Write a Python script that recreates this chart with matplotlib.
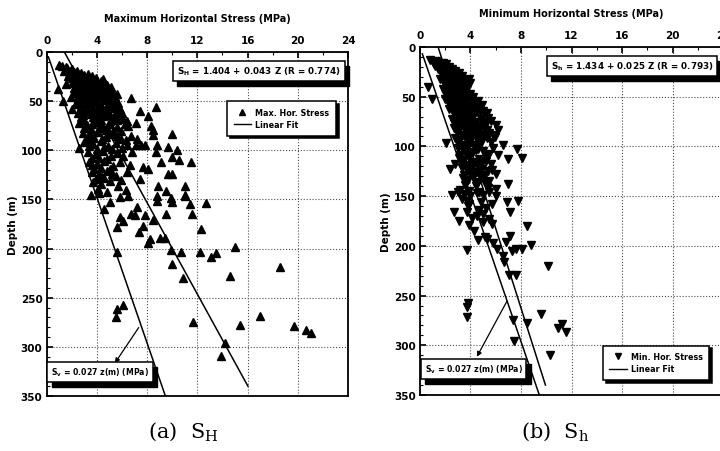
import numpy as np
import matplotlib
matplotlib.use("Agg")
import matplotlib.pyplot as plt
from matplotlib.transforms import offset_copy
from matplotlib.lines import Line2D

# ---- data: (stress MPa, depth m) ----
sh_max_stress = [1.0, 1.2, 1.6, 1.9, 2.2, 1.4,
                 1.8, 2.1, 2.5, 2.8, 3.1, 2.3, 3.4, 2.6, 3.7, 4.0, 4.3,
                 2.0, 2.4, 2.9, 3.2, 3.6, 3.9, 4.2, 4.6, 4.9, 1.5, 2.7, 3.3, 4.5, 5.2,
                 2.2, 2.6, 3.0, 3.4, 3.8, 4.1, 4.4, 4.8, 5.2, 5.6, 1.9, 2.9, 3.6, 4.6, 5.0, 0.9, 1.3,
                 2.3, 2.7, 3.1, 3.5, 3.9, 4.3, 4.7, 5.1, 5.5, 2.0, 3.3, 4.0, 4.9, 5.8, 6.75, 7.4,
                 2.5, 2.9, 3.3, 3.7, 4.1, 4.5, 4.9, 5.3, 5.7, 6.1, 3.0, 4.3, 5.0, 8.05, 8.74,
                 2.6, 3.2, 3.8, 4.4, 5.0, 5.6, 6.4, 6.5, 7.1, 8.3, 3.5, 4.7, 5.9, 8.5,
                 2.9, 3.5, 4.1, 4.7, 5.3, 5.9, 6.7, 8.5, 9.94, 3.2, 4.4, 7.2,
                 3.0, 3.7, 4.3, 4.9, 5.5, 7.15, 7.5, 7.8, 8.75, 9.67, 2.6, 4.0, 6.0,
                 3.3, 3.9, 4.5, 5.1, 6.76, 8.7, 10.4, 10.0, 6.1, 3.6, 4.8, 5.6,
                 3.4, 4.0, 4.6, 5.3, 6.6, 9.1, 10.5, 11.5, 7.7, 8.1, 3.8, 5.0,
                 3.6, 4.2, 4.8, 5.5, 6.36, 9.67, 10.0, 7.4, 3.9, 4.6,
                 3.7, 4.3, 5.0, 5.7, 8.87, 11.0, 11.0, 4.1, 4.8, 6.3, 3.5, 4.2,
                 4.55, 5.03, 5.56, 5.6, 5.83, 6.1, 5.83, 6.5, 6.7, 7.0, 7.2, 7.36,
                 7.63, 7.8, 8.08, 8.2, 8.5, 8.8, 8.8, 9.0, 9.4, 9.5, 9.5, 9.9, 10.0,
                 9.86, 9.96, 10.73, 10.86, 11.0, 11.45, 11.6, 12.3, 12.24, 12.66,
                 11.65, 13.1, 13.46, 14.57, 15.0, 14.2, 13.88, 15.37, 16.96, 18.55,
                 19.7, 20.67, 21.07, 5.56, 5.5, 6.1,
                 1.5, 2.0, 2.4, 2.7, 3.0, 3.3, 3.6, 2.0, 2.9, 3.9, 4.5, 1.7,
                 2.2, 2.6, 3.0, 3.4, 3.7, 4.1, 4.4, 4.8, 5.1, 2.4, 2.8, 3.2, 3.6, 4.0,
                 4.3, 4.7, 5.0, 5.4, 2.5, 3.1, 3.9, 4.9, 5.3,
                 2.5, 2.9, 3.3, 3.7, 4.1, 4.5, 4.9, 5.3, 5.7, 2.8, 3.5, 3.9, 4.7, 5.5,
                 6.0, 2.7, 5.6,
                 3.0, 3.6, 4.2, 4.8, 5.3, 6.2, 3.3, 3.8, 4.9, 5.6, 6.3, 3.4, 4.6, 5.2, 6.4,
                 3.6, 4.3, 5.8, 4.2, 5.2, 4.4, 5.9]
sh_max_depth = [13, 14, 16, 18, 20, 19,
                22, 24, 23, 25, 27, 28, 26, 30, 28, 30, 29,
                32, 34, 33, 35, 32, 36, 34, 31, 37, 33, 38, 39, 39, 40,
                42, 44, 41, 45, 43, 47, 42, 45, 44, 43, 46, 48, 49, 49, 48, 38, 50,
                52, 55, 53, 56, 51, 54, 57, 52, 55, 58, 59, 59, 60, 58, 47, 60,
                62, 64, 61, 66, 63, 65, 62, 67, 64, 68, 69, 69, 70, 65, 56,
                72, 74, 71, 75, 73, 76, 70, 75, 72, 75, 78, 79, 80, 79,
                82, 84, 81, 86, 83, 88, 85, 84, 83, 89, 89, 88,
                92, 94, 91, 96, 93, 95, 95, 95, 95, 97, 98, 99, 98,
                102, 104, 101, 106, 102, 102, 100, 107, 106, 108, 109, 103,
                112, 114, 111, 116, 115, 112, 110, 112, 117, 119, 119, 119,
                122, 124, 121, 126, 122, 124, 124, 129, 129, 128,
                132, 134, 131, 136, 136, 136, 145, 139, 142, 140, 145, 143,
                160, 153, 178, 203, 168, 172, 148, 146, 165, 166, 158, 183,
                177, 166, 194, 190, 171, 147, 152, 189, 189, 141, 165, 149, 153,
                201, 216, 203, 230, 146, 155, 165, 180, 203, 154,
                275, 209, 205, 228, 198, 296, 309, 278, 269, 219,
                279, 283, 286, 261, 270, 257,
                15, 17, 19, 21, 23, 22, 24, 26, 29, 26, 27, 24,
                37, 31, 36, 33, 37, 38, 36, 34, 36, 40, 42, 43, 41, 44,
                46, 41, 42, 46, 47, 46, 47, 46, 49,
                53, 57, 51, 58, 56, 59, 54, 57, 52, 60, 63, 68, 64, 61,
                62, 66, 69,
                77, 73, 77, 77, 80, 73, 86, 87, 82, 85, 90, 96, 97, 99, 95,
                115, 118, 112, 108, 124, 127, 130]

sh_min_stress = [0.8, 1.0, 1.3, 1.5, 1.8, 1.2, 2.0,
                 1.4, 1.7, 2.0, 2.3, 2.6, 1.9, 2.2, 2.5, 2.9,
                 1.6, 2.0, 2.3, 2.6, 2.9, 3.2, 3.5, 3.9, 2.4, 2.8, 3.3, 0.66,
                 1.8, 2.1, 2.5, 2.8, 3.1, 3.4, 3.7, 4.0, 2.3, 2.7, 3.3, 0.93,
                 2.0, 2.4, 2.7, 3.0, 3.4, 3.7, 4.1, 4.4, 2.6, 3.2, 4.76, 3.9,
                 2.3, 2.6, 3.0, 3.3, 3.6, 4.0, 4.3, 4.7, 5.0, 2.8, 3.5, 4.2,
                 2.5, 2.9, 3.2, 3.6, 4.0, 4.4, 4.8, 5.2, 5.6, 3.1, 3.8, 4.6, 6.0,
                 2.7, 3.1, 3.5, 3.9, 4.3, 4.7, 5.1, 5.5, 6.2, 3.3, 4.1, 5.0,
                 2.8, 3.2, 3.6, 4.0, 4.5, 4.9, 5.3, 5.95, 6.56, 2.06, 3.5, 4.3,
                 3.0, 3.4, 3.8, 4.2, 4.6, 5.0, 5.5, 6.2, 7.67, 3.2, 4.0, 5.8,
                 3.1, 3.5, 3.9, 4.3, 4.7, 5.2, 7.0, 8.07, 2.8, 3.7, 4.5, 5.6,
                 2.38, 3.3, 3.7, 4.1, 4.5, 4.9, 5.4, 6.0, 3.5, 4.3, 5.1,
                 3.4, 3.8, 4.2, 4.6, 5.0, 5.5, 7.0, 3.6, 4.4, 5.3, 6.0, 3.2,
                 3.0, 3.5, 4.0, 4.5, 5.0, 5.5, 6.0, 6.88, 7.75, 3.3, 3.9, 4.8, 5.7, 2.5, 3.7, 3.8,
                 2.7, 3.7, 3.9, 4.1, 4.98, 7.1, 4.5, 5.0, 5.5, 3.1, 4.7, 5.2, 5.7,
                 4.3, 5.16, 5.3, 6.8, 7.14, 8.5, 5.8, 4.6,
                 3.7, 6.1, 6.6, 6.66, 7.3, 7.6, 8.07, 8.83, 7.04, 7.6, 10.13,
                 3.8, 3.73, 3.7, 7.4, 8.5, 9.58, 7.46, 10.9, 11.27, 11.53, 10.26,
                 1.1, 1.4, 1.7, 2.1, 2.3, 1.6, 2.5, 2.8, 3.1, 3.3, 1.8, 2.1, 2.7, 3.0,
                 3.6, 3.4, 1.9, 2.2, 2.6, 3.1, 3.7, 4.0,
                 2.0, 2.4, 2.6, 3.0, 3.5, 3.8, 4.2, 4.6, 2.2, 2.9, 3.2, 3.6, 4.1, 4.9,
                 2.5, 2.9, 3.8, 4.5, 5.3, 2.7, 3.4, 4.2, 5.0, 5.4,
                 2.9, 3.7, 4.5, 5.3, 5.8, 3.0, 3.8, 4.7, 5.6, 3.6, 4.4, 5.2, 3.3, 4.1,
                 4.9, 3.9, 4.7, 5.7, 3.6, 4.4, 5.2, 3.9, 4.7, 5.4]
sh_min_depth = [13, 15, 14, 17, 16, 19, 19,
                22, 24, 21, 23, 25, 27, 29, 28, 27,
                32, 34, 31, 33, 35, 32, 36, 32, 38, 39, 38, 40.6,
                42, 44, 41, 46, 43, 45, 42, 47, 48, 49, 49, 52,
                52, 54, 51, 56, 53, 55, 52, 57, 58, 59, 59, 60,
                62, 64, 61, 66, 63, 65, 62, 67, 64, 69, 69, 70,
                72, 74, 71, 76, 73, 75, 72, 77, 74, 79, 79, 79, 78,
                82, 84, 81, 86, 83, 85, 82, 87, 84, 89, 89, 89,
                92, 94, 91, 96, 93, 95, 92, 91, 99, 96.6, 99, 99,
                102, 104, 101, 106, 103, 105, 108, 109, 103, 109, 109, 102,
                112, 114, 111, 116, 113, 115, 113, 112, 118, 119, 119, 118,
                123, 122, 124, 121, 126, 123, 125, 128, 129, 129, 129,
                132, 134, 131, 136, 133, 135, 138, 139, 140, 141, 143, 144,
                146, 148, 150, 147, 149, 146, 150, 156, 154.6, 153, 158, 156, 158, 149, 155, 160,
                166, 166, 179, 172, 168, 166, 170, 176, 173, 175, 164, 162, 178,
                185, 191.5, 193, 196.5, 190, 179.8, 197, 194,
                204, 203, 210, 216, 205, 203, 203, 199, 229, 229, 220,
                257.5, 262, 272, 275, 278, 268.6, 296, 283, 278.7, 286.4, 309.5,
                17, 16, 18, 17, 20, 21, 22, 24, 26, 29, 30, 26, 31, 30,
                33, 35, 36, 40, 36, 37, 39, 36,
                46, 44, 47, 48, 47, 51, 50, 54, 55, 53, 57, 58, 59, 58,
                60, 66, 68, 64, 66, 76, 74, 78, 75, 71,
                86, 83, 88, 84, 89, 97, 93, 98, 96, 106, 104, 110, 116, 118,
                117, 126, 128, 124, 135, 137, 138, 145, 146, 142]

sv_coef = 0.027
fit_max = (1.404, 0.043)
fit_min = (1.434, 0.025)

plt.rcParams['font.family'] = 'DejaVu Sans'

fig = plt.figure(figsize=(7.2, 4.52), dpi=100)
ax1 = fig.add_axes([0.0649, 0.1217, 0.4185, 0.761])
ax2 = fig.add_axes([0.5833, 0.1239, 0.421, 0.770])


def shadow_box(ax, x, y, s, size=6.3, pad=0.45):
    sh = offset_copy(ax.transAxes, fig=fig, x=3, y=-3.5, units='points')
    ax.text(x, y, s, transform=sh, ha='center', va='center', fontsize=size,
            fontweight='bold', color='k', zorder=6,
            bbox=dict(boxstyle='square,pad=%.2f' % pad, fc='k', ec='k'))
    ax.text(x, y, s, transform=ax.transAxes, ha='center', va='center', fontsize=size,
            fontweight='bold', color='k', zorder=7,
            bbox=dict(boxstyle='square,pad=%.2f' % pad, fc='w', ec='k', lw=1.1))


def setup(ax, title):
    ax.set_xlim(0, 24)
    ax.set_ylim(350, 0)
    ax.xaxis.tick_top()
    ax.set_xticks(np.arange(0, 25, 4))
    ax.set_xticks(np.arange(0, 25, 2), minor=True)
    ax.set_yticks(np.arange(0, 351, 50))
    ax.set_yticks(np.arange(0, 351, 10), minor=True)
    ax.tick_params(which='major', direction='in', length=4, width=1.2, labelsize=7.5, pad=5)
    ax.tick_params(which='minor', direction='in', length=2, width=0.8)
    ax.tick_params(axis='x', top=True, bottom=False)
    ax.tick_params(axis='y', pad=3)
    for lab in ax.get_xticklabels() + ax.get_yticklabels():
        lab.set_fontweight('bold')
    ax.grid(True, which='major', linestyle=':', color='0.3', lw=0.8)
    ax.set_axisbelow(True)
    for sp in ax.spines.values():
        sp.set_linewidth(1.3)
    ax.set_title(title, fontsize=7, fontweight='bold', pad=10)
    ax.set_ylabel('Depth (m)', fontsize=7.5, fontweight='bold', labelpad=2)


def add_legend(ax, marker, label, **kw):
    handles = [Line2D([], [], marker=marker, ls='', color='k', ms=4),
               Line2D([], [], color='k', lw=1)]
    leg = ax.legend(handles, [label, 'Linear Fit'], prop={'size': 5.8, 'weight': 'bold'},
                    frameon=True, fancybox=False, edgecolor='k', framealpha=1,
                    handlelength=2.2, borderpad=0.8, labelspacing=0.4, handletextpad=0.5,
                    shadow={'color': 'k', 'alpha': 1}, **kw)
    leg.get_frame().set_linewidth(1.1)
    leg.set_zorder(8)


# (a) maximum horizontal stress
setup(ax1, 'Maximum Horizontal Stress (MPa)')
ax1.plot(sh_max_stress, sh_max_depth, '^', color='k', ms=5.2, zorder=3)
z = np.array([5, 350])
ax1.plot(sv_coef * z, z, 'k-', lw=1.1, zorder=4)
z = np.array([0, 340])
ax1.plot(fit_max[0] + fit_max[1] * z, z, 'k-', lw=1.1, zorder=4)
ax1.annotate('', xy=(5.3, 319), xytext=(7.45, 278),
             arrowprops=dict(arrowstyle='-|>', color='k', lw=0.9, mutation_scale=7))
shadow_box(ax1, 0.704, 0.945, r'S$_\mathbf{H}$ = 1.404 + 0.043 Z (R = 0.774)')
shadow_box(ax1, 0.178, 0.070, r'S$_\mathbf{v}$ = 0.027 z(m) (MPa)', size=5.6, pad=0.5)
add_legend(ax1, '^', 'Max. Hor. Stress', loc='upper right', bbox_to_anchor=(0.973, 0.868))

# (b) minimum horizontal stress
setup(ax2, 'Minimum Horizontal Stress (MPa)')
ax2.plot(sh_min_stress, sh_min_depth, 'v', color='k', ms=5.2, zorder=3)
z = np.array([7, 350])
ax2.plot(sv_coef * z, z, 'k-', lw=1.1, zorder=4)
z = np.array([0, 340])
ax2.plot(fit_min[0] + fit_min[1] * z, z, 'k-', lw=1.1, zorder=4)
ax2.annotate('', xy=(4.4, 314), xytext=(7.0, 253),
             arrowprops=dict(arrowstyle='-|>', color='k', lw=0.9, mutation_scale=7))
shadow_box(ax2, 0.700, 0.945, r'S$_\mathbf{h}$ = 1.434 + 0.025 Z (R = 0.793)')
shadow_box(ax2, 0.177, 0.075, r'S$_\mathbf{v}$ = 0.027 z(m) (MPa)', size=5.6, pad=0.5)
add_legend(ax2, 'v', 'Min. Hor. Stress', loc='lower right', bbox_to_anchor=(0.968, 0.032))

fig.text(183 / 720, 1 - 432 / 452, r'(a)  S$_\mathrm{H}$', ha='center', va='center',
         fontsize=15, family='DejaVu Serif', math_fontfamily='dejavuserif')
fig.text(555 / 720, 1 - 432 / 452, r'(b)  S$_\mathrm{h}$', ha='center', va='center',
         fontsize=15, family='DejaVu Serif', math_fontfamily='dejavuserif')

fig.savefig('out.png', dpi=100)
